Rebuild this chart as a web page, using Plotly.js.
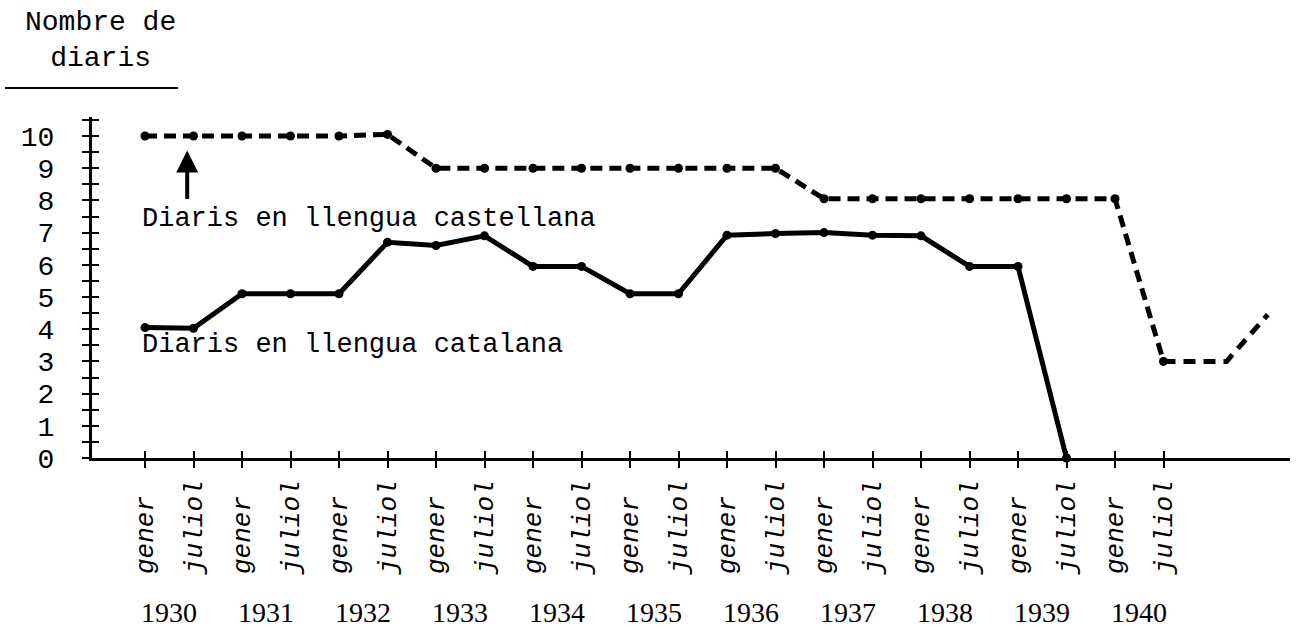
<!DOCTYPE html>
<html>
<head>
<meta charset="utf-8">
<script src="https://cdn.plot.ly/plotly-3.0.1.min.js"></script>
<style>html,body{margin:0;padding:0;background:#fff;}#chart{width:1306px;height:630px;}</style>
</head>
<body>
<div id="chart"></div>
<script>
// ---- data ----
const halfYearLabels = ['gener','juliol','gener','juliol','gener','juliol','gener','juliol','gener','juliol','gener','juliol',
                        'gener','juliol','gener','juliol','gener','juliol','gener','juliol','gener','juliol'];
const years = [1930,1931,1932,1933,1934,1935,1936,1937,1938,1939,1940];
const periodIndex = [0,1,2,3,4,5,6,7,8,9,10,11,12,13,14,15,16,17,18,19,20,21];

const castellanaY = [10,10,10,10,10,10.05, 9,9,9,9,9,9,9,9, 8.05,8.05,8.05,8.05,8.05,8.05,8.05, 3];
const castellanaExtX = [21, 22.3, 23.15];
const castellanaExtY = [3, 3, 4.45];

const catalanaX = [0,1,2,3,4,5,6,7,8,9,10,11,12,13,14,15,16,17,18,19];
const catalanaY = [4.05,4.03,5.1,5.1,5.1,6.7,6.6,6.9,5.95,5.95,5.1,5.1,6.92,6.97,7.0,6.92,6.9,5.95,5.95,0];

const yTicks = [0,1,2,3,4,5,6,7,8,9,10];
const yTitle = 'Nombre de<br>diaris';
const labelCastellana = 'Diaris en llengua castellana';
const labelCatalana = 'Diaris en llengua catalana';

// ---- layout geometry ----
const M = {l:92, r:16, t:117, b:172};
const W = 1306 - M.l - M.r, H = 630 - M.t - M.b;
const xRange = [-1.093, 23.608];
const yRange = [0, 10.59];
const px2x = p => (p - M.l) / W;          // paper x
const py2y = p => (630 - M.b - p) / H;    // paper y

const mono = 'Liberation Mono, Courier New, monospace';
const serif = 'Liberation Serif, Times New Roman, serif';

const padded = halfYearLabels.map(s => s.length < 6 ? s + '\u00a0' : s);

const traces = [
  {
    x: catalanaX, y: catalanaY, xaxis:'x', yaxis:'y',
    mode:'lines+markers', cliponaxis:false,
    line:{color:'#000', width:5},
    marker:{color:'#000', size:9},
    hoverinfo:'skip', showlegend:false
  },
  {
    x: castellanaExtX, y: castellanaExtY, xaxis:'x2', yaxis:'y2',
    mode:'lines', cliponaxis:false,
    line:{color:'#000', width:5, dash:'12px,8px'},
    hoverinfo:'skip', showlegend:false
  },
  {
    x: periodIndex, y: castellanaY, xaxis:'x2', yaxis:'y2',
    mode:'lines+markers', cliponaxis:false,
    line:{color:'#000', width:5, dash:'12px,7px'},
    marker:{color:'#000', size:9},
    hoverinfo:'skip', showlegend:false
  }
];

const annotations = [
  {xref:'paper', yref:'paper', x:px2x(100), y:py2y(5), xanchor:'center', yanchor:'top',
   text:yTitle, showarrow:false, align:'center', font:{family:mono, size:28, color:'#000'}},
  {xref:'x', yref:'y', x:-0.1, y:7.42, xanchor:'left', yanchor:'middle',
   text:labelCastellana, showarrow:false, font:{family:mono, size:27, color:'#000'}},
  {xref:'x', yref:'y', x:-0.1, y:3.5, xanchor:'left', yanchor:'middle',
   text:labelCatalana, showarrow:false, font:{family:mono, size:27, color:'#000'}},
  {xref:'x', yref:'y', x:0.87, y:9.55, ax:0, ay:50, text:'', showarrow:true,
   arrowhead:2, arrowsize:1.1, arrowwidth:4, arrowcolor:'#000'}
];
years.forEach((yr, i) => {
  annotations.push({xref:'x', yref:'paper', x:2*i + 0.5, y:py2y(629), xanchor:'center', yanchor:'bottom',
    borderpad:0, text:String(yr), showarrow:false, font:{family:serif, size:28, color:'#000'}});
});

const layout = {
  width:1306, height:630,
  margin:{l:M.l, r:M.r, t:M.t, b:M.b, pad:0},
  paper_bgcolor:'#fff', plot_bgcolor:'#fff',
  showlegend:false,
  xaxis:{
    range:xRange, tickmode:'array', tickvals:periodIndex, ticktext:padded,
    tickangle:-90, ticks:'outside', ticklen:7, tickwidth:2, tickcolor:'#000',
    ticklabelstandoff:2,
    showline:true, linewidth:3, linecolor:'#000', showgrid:false, zeroline:false,
    tickfont:{family:mono, size:26, color:'#000', style:'italic'}, fixedrange:true
  },
  yaxis:{
    range:yRange, tickmode:'array', tickvals:yTicks, ticks:'outside', ticklen:7, tickwidth:2, tickcolor:'#000',
    minor:{tickmode:'linear', tick0:0, dtick:0.5, ticks:'outside', ticklen:7, tickwidth:2, tickcolor:'#000', showgrid:false},
    ticklabelstandoff:22,
    showline:true, linewidth:3, linecolor:'#000', showgrid:false, zeroline:false,
    tickfont:{family:mono, size:28, color:'#000'}, fixedrange:true
  },
  xaxis2:{
    overlaying:'x', anchor:'y2', range:xRange, tickmode:'array', tickvals:periodIndex,
    ticks:'inside', ticklen:7, tickwidth:2, tickcolor:'#000', showticklabels:false,
    showline:false, showgrid:false, zeroline:false, fixedrange:true
  },
  yaxis2:{
    overlaying:'y', anchor:'x2', side:'left', range:yRange, tickmode:'linear', tick0:0, dtick:0.5,
    ticks:'inside', ticklen:7, tickwidth:2, tickcolor:'#000', showticklabels:false,
    showline:false, showgrid:false, zeroline:false, fixedrange:true
  },
  shapes:[
    {type:'line', xref:'paper', yref:'paper', x0:px2x(5), x1:px2x(178), y0:py2y(88), y1:py2y(88),
     line:{color:'#000', width:2}}
  ],
  annotations:annotations
};

Plotly.newPlot('chart', traces, layout, {staticPlot:true, displayModeBar:false});
</script>
</body>
</html>
